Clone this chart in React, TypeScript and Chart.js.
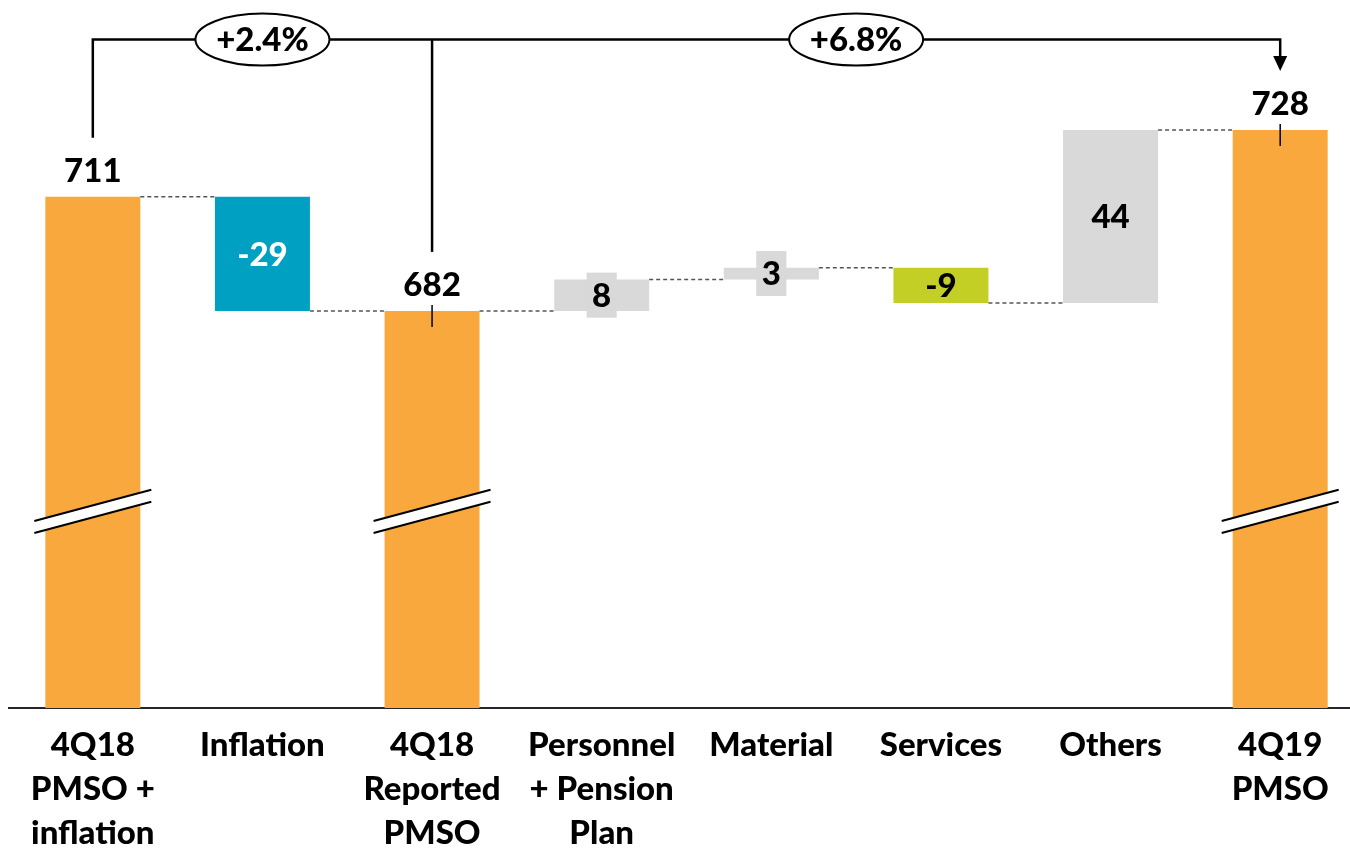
import React, { useEffect, useRef } from "react";
import { Chart, registerables } from "chart.js";

Chart.register(...registerables);

// ---------- data ----------
const categories: string[][] = [
  ["4Q18", "PMSO +", "inflation"],
  ["Inflation"],
  ["4Q18", "Reported", "PMSO"],
  ["Personnel", "+ Pension", "Plan"],
  ["Material"],
  ["Services"],
  ["Others"],
  ["4Q19", "PMSO"],
];
const barKinds = ["total", "delta", "total", "delta", "delta", "delta", "delta", "total"];
const values = [711, -29, 682, 8, 3, -9, 44, 728];
const valueLabels = ["711", "-29", "682", "8", "3", "-9", "44", "728"];
const growthLabels = ["+2.4%", "+6.8%"];
const growthSpans = [
  [0, 2],
  [2, 7],
];

// ---------- axis settings ----------
const yMin = 581;
const yMax = 757;
const breakValue = 631;
const bracketValue = 751;

// ---------- styles ----------
const barColors = ["#F9A83E", "#00A0C3", "#F9A83E", "#D9D9D9", "#D9D9D9", "#C3CF24", "#D9D9D9", "#F9A83E"];
const labelColors = ["#000", "#FFFFFF", "#000", "#000", "#000", "#000", "#000", "#000"];
const breakBars = [0, 2, 7];
const stubBars = [2, 7];
const FONT = "900 33px Lato";

let running = 0;
const floatingData = values.map((v, i) => {
  if (barKinds[i] === "total") {
    running = v;
    return [0, v];
  }
  const start = running;
  running += v;
  return [start, running];
});
const levels = floatingData.map((f) => f[1]);

const decorPlugin = {
  id: "decor",
  afterDatasetsDraw(chart: any) {
    const ctx: CanvasRenderingContext2D = chart.ctx;
    const meta = chart.getDatasetMeta(0);
    const yScale = chart.scales.y;
    const bars = meta.data.map((b: any) => {
      const p = b.getProps(["x", "y", "base", "width"], true);
      return {
        x: p.x,
        w: p.width,
        top: Math.min(p.y, p.base),
        bottom: Math.max(p.y, p.base),
      };
    });
    ctx.save();

    // dashed connectors
    ctx.setLineDash([4, 3]);
    ctx.lineWidth = 1.5;
    ctx.strokeStyle = "#555";
    for (let i = 0; i < bars.length - 1; i++) {
      const y = yScale.getPixelForValue(levels[i]);
      ctx.beginPath();
      ctx.moveTo(bars[i].x + bars[i].w / 2, y);
      ctx.lineTo(bars[i + 1].x - bars[i + 1].w / 2, y);
      ctx.stroke();
    }
    ctx.setLineDash([]);

    // axis break marks
    const cyBreak = yScale.getPixelForValue(breakValue);
    const slope = -0.267;
    breakBars.forEach((i) => {
      const b = bars[i];
      const L = b.x - b.w / 2 - 11;
      const R = b.x + b.w / 2 + 11;
      const yL = cyBreak + slope * (L - b.x);
      const yR = cyBreak + slope * (R - b.x);
      ctx.fillStyle = "#fff";
      ctx.beginPath();
      ctx.moveTo(L, yL - 6);
      ctx.lineTo(R, yR - 6);
      ctx.lineTo(R, yR + 6);
      ctx.lineTo(L, yL + 6);
      ctx.closePath();
      ctx.fill();
      ctx.strokeStyle = "#000";
      ctx.lineWidth = 2;
      ctx.beginPath();
      ctx.moveTo(L, yL - 6);
      ctx.lineTo(R, yR - 6);
      ctx.moveTo(L, yL + 6);
      ctx.lineTo(R, yR + 6);
      ctx.stroke();
    });

    // stubs
    ctx.strokeStyle = "#000";
    ctx.lineWidth = 1.5;
    stubBars.forEach((i) => {
      const b = bars[i];
      ctx.beginPath();
      ctx.moveTo(b.x, b.top - 6);
      ctx.lineTo(b.x, b.top + 16);
      ctx.stroke();
    });

    // value labels
    ctx.font = FONT;
    ctx.textAlign = "center";
    ctx.textBaseline = "middle";
    bars.forEach((b: any, i: number) => {
      const txt = valueLabels[i];
      if (barKinds[i] === "total") {
        ctx.fillStyle = labelColors[i];
        ctx.fillText(txt, b.x, b.top - 26);
      } else {
        const cy = (b.top + b.bottom) / 2;
        const h = b.bottom - b.top;
        if (h < 33) {
          const tw = ctx.measureText(txt).width;
          ctx.fillStyle = barColors[i];
          ctx.fillRect(b.x - (tw + 11) / 2, cy - 22.5, tw + 11, 45);
        }
        ctx.fillStyle = labelColors[i];
        ctx.fillText(txt, b.x, cy + 1);
      }
    });

    // bracket
    const by = yScale.getPixelForValue(bracketValue);
    const first = bars[growthSpans[0][0]];
    const last = bars[growthSpans[growthSpans.length - 1][1]];
    ctx.strokeStyle = "#000";
    ctx.lineWidth = 2.5;
    ctx.beginPath();
    ctx.moveTo(first.x, first.top - 59);
    ctx.lineTo(first.x, by);
    ctx.lineTo(last.x, by);
    ctx.lineTo(last.x, last.top - 59 - 14);
    ctx.stroke();
    growthSpans.forEach(([a]) => {
      if (a !== growthSpans[0][0]) {
        const m = bars[a];
        ctx.beginPath();
        ctx.moveTo(m.x, by);
        ctx.lineTo(m.x, m.top - 59);
        ctx.stroke();
      }
    });
    // arrow head
    const tip = last.top - 59;
    ctx.fillStyle = "#000";
    ctx.beginPath();
    ctx.moveTo(last.x - 7, tip - 15);
    ctx.lineTo(last.x + 7, tip - 15);
    ctx.lineTo(last.x, tip);
    ctx.closePath();
    ctx.fill();

    // ellipses
    growthSpans.forEach(([a, b2], k) => {
      const cx = (bars[a].x + bars[b2].x) / 2;
      ctx.beginPath();
      ctx.ellipse(cx, by, 67, 26, 0, 0, Math.PI * 2);
      ctx.fillStyle = "#fff";
      ctx.fill();
      ctx.lineWidth = 2;
      ctx.strokeStyle = "#000";
      ctx.stroke();
      ctx.fillStyle = "#000";
      ctx.font = FONT;
      ctx.fillText(growthLabels[k], cx, by + 1);
    });

    ctx.restore();
  },
};

export default function App() {
  const ref = useRef<HTMLCanvasElement | null>(null);
  useEffect(() => {
    if (!ref.current) return;
    const chart = new Chart(ref.current, {
      type: "bar",
      data: {
        labels: categories,
        datasets: [
          {
            data: floatingData as any,
            backgroundColor: barColors,
            borderWidth: 0,
            categoryPercentage: 1,
            barPercentage: 0.56,
            clip: 0 as any,
          },
        ],
      },
      options: {
        animation: false,
        responsive: false,
        maintainAspectRatio: false,
        layout: { padding: { top: 8, left: 0, right: 0, bottom: 0 } },
        plugins: {
          legend: { display: false },
          tooltip: { enabled: false },
        },
        scales: {
          x: {
            grid: { display: false, drawTicks: false },
            border: { display: true, color: "#262626", width: 2 },
            ticks: {
              color: "#000",
              font: { family: "Lato", weight: 900 as any, size: 33, lineHeight: 44 / 33 },
              padding: 15,
              maxRotation: 0,
              autoSkip: false,
            },
            afterFit: (s: any) => {
              s.height = 143;
            },
          },
          y: {
            display: false,
            min: yMin,
            max: yMax,
          },
        },
      },
      plugins: [decorPlugin],
    });
    return () => chart.destroy();
  }, []);
  return (
    <div
      style={{
        position: "fixed",
        left: 8,
        top: 8,
        width: 1342,
        height: 843,
        overflow: "hidden",
        background: "#fff",
      }}
    >
      <canvas ref={ref} width={1357} height={843} style={{ width: 1357, height: 843, display: "block" }} />
    </div>
  );
}
